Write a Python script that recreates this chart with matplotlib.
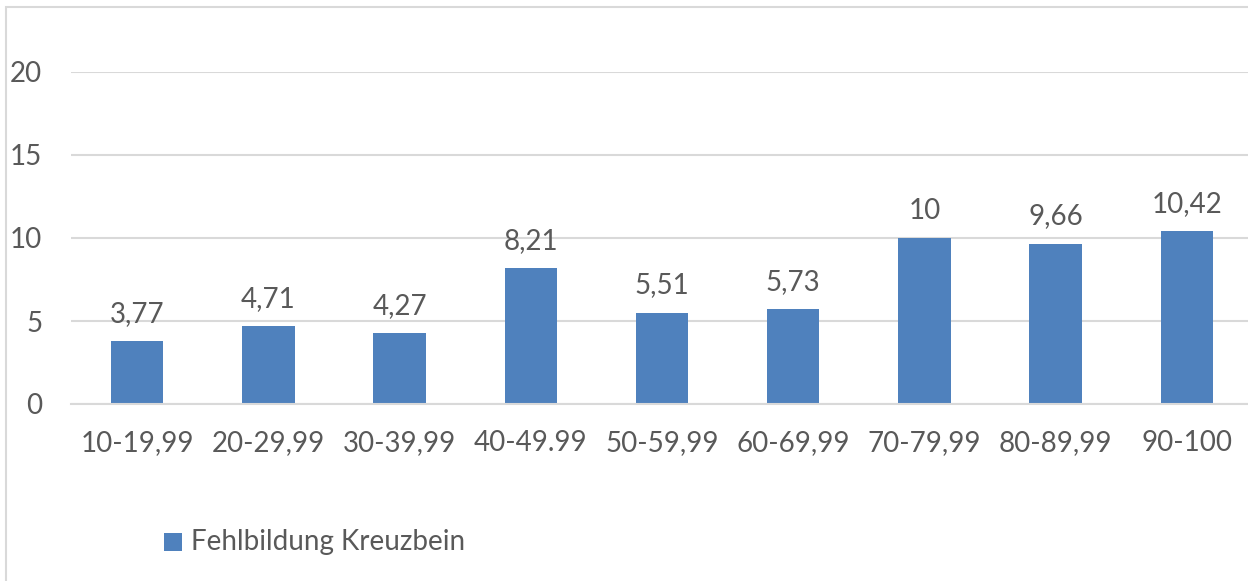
import matplotlib.pyplot as plt
from matplotlib.patches import Rectangle

############
# Data
categories = ["10-19,99", "20-29,99", "30-39,99", "40-49.99", "50-59,99",
              "60-69,99", "70-79,99", "80-89,99", "90-100"]
values = [3.77, 4.71, 4.27, 8.21, 5.51, 5.73, 10, 9.66, 10.42]
value_labels = ["3,77", "4,71", "4,27", "8,21", "5,51", "5,73", "10", "9,66", "10,42"]
yticks = [0, 5, 10, 15, 20]
series_name = "Fehlbildung Kreuzbein"
############

plt.rcParams['font.family'] = ['Lato', 'DejaVu Sans']
txt = '#595959'
grid = '#d9d9d9'
blue = '#4f81bd'
fs = 20

W, H = 1248, 581
fig = plt.figure(figsize=(W / 100, H / 100), dpi=100)

# chart border (left and top edges visible in the crop)
fig.add_artist(Rectangle((6 / W, -0.1), 1.2, (H - 7) / H + 0.1, transform=fig.transFigure,
                         fill=False, edgecolor=grid, linewidth=1.5))

left, right = 71.4, 1252.6
top, bottom = 72, 404
ax = fig.add_axes([left / W, 1 - bottom / H, (right - left) / W, (bottom - top) / H])

x = range(len(categories))
ax.bar(x, values, width=0.40, color=blue, zorder=3)
for xi, v, lab in zip(x, values, value_labels):
    ax.text(xi, v + 0.85, lab, ha='center', va='bottom', fontsize=fs, color=txt)

ax.set_xlim(-0.5, len(categories) - 0.5)
ax.set_ylim(0, 20)
ax.set_yticks(yticks)
ax.set_yticklabels([str(t) for t in yticks], fontsize=fs, color=txt)
ax.set_xticks(list(x))
ax.set_xticklabels(categories, fontsize=fs, color=txt)
ax.tick_params(axis='both', length=0)
ax.tick_params(axis='y', pad=21)
ax.tick_params(axis='x', pad=19)
ax.yaxis.grid(True, color=grid, linewidth=1.5, zorder=0)
for s in ['left', 'right', 'top']:
    ax.spines[s].set_visible(False)
ax.spines['bottom'].set_color(grid)
ax.spines['bottom'].set_linewidth(1.5)
ax.spines['bottom'].set_zorder(4)

# legend drawn by hand at the bottom left
fig.add_artist(Rectangle((164 / W, 1 - 551 / H), 18 / W, 18 / H, transform=fig.transFigure,
                         facecolor=blue, edgecolor='none'))
fig.text(191 / W, 1 - 542 / H, series_name, fontsize=fs, color=txt, va='center', ha='left')

fig.savefig('out.png', dpi=100)
plt.close()
